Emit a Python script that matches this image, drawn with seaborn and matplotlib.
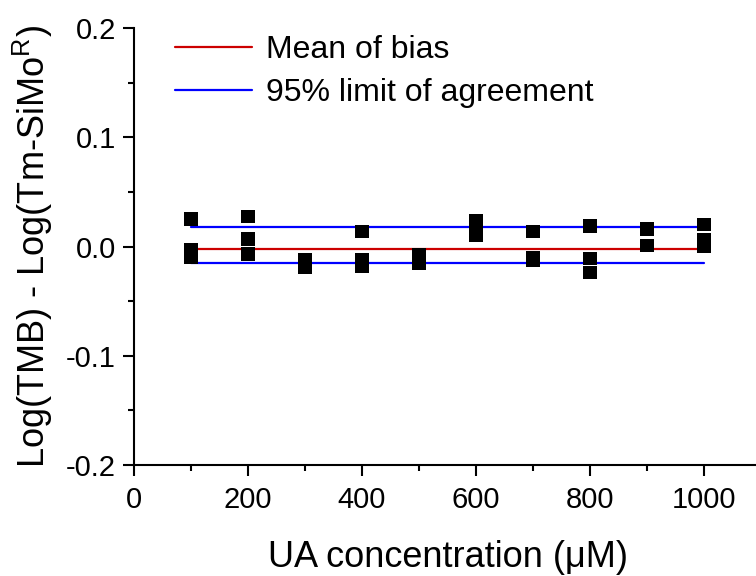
import matplotlib
matplotlib.use("Agg")
import matplotlib.pyplot as plt
from matplotlib.ticker import MultipleLocator
import seaborn as sns
import pandas as pd

# UA concentration (uM) and the log difference between the two methods
conc = [100, 100, 100,
        200, 200, 200,
        300, 300,
        400, 400, 400,
        500, 500,
        600, 600, 600,
        700, 700, 700,
        800, 800, 800,
        900, 900,
        1000, 1000, 1000]
diff = [0.025, -0.003, -0.010,
        0.0275, 0.0067, -0.0067,
        -0.012, -0.019,
        0.0138, -0.012, -0.018,
        -0.008, -0.015,
        0.024, 0.017, 0.010,
        0.0138, -0.010, -0.013,
        0.019, -0.011, -0.024,
        0.016, 0.001,
        0.020, 0.006, 0.0005]

mean_bias = -0.002
loa_upper = 0.018
loa_lower = -0.0147
line_x = [100, 1000]

sns.set_theme(style="ticks")
plt.rcParams["font.family"] = ["Liberation Sans", "DejaVu Sans"]
plt.rcParams["mathtext.fontset"] = "custom"
plt.rcParams["mathtext.rm"] = "Liberation Sans"
for key in ("text.color", "axes.labelcolor", "xtick.color", "ytick.color",
            "xtick.labelcolor", "ytick.labelcolor"):
    plt.rcParams[key] = "black"

fig = plt.figure(figsize=(7.56, 5.76), dpi=100)
ax = fig.add_axes([134 / 756, 111 / 576, 627 / 756, 437 / 576])

points = pd.DataFrame({"conc": conc, "diff": diff})
sns.scatterplot(data=points, x="conc", y="diff", marker="s", s=95,
                color="black", edgecolor="none", ax=ax, zorder=3)

sns.lineplot(x=line_x, y=[mean_bias, mean_bias], color="#cc0000", lw=1.6,
             ax=ax, label="Mean of bias", zorder=2)
sns.lineplot(x=line_x, y=[loa_upper, loa_upper], color="#0000ff", lw=1.6,
             ax=ax, label="95% limit of agreement", zorder=2)
sns.lineplot(x=line_x, y=[loa_lower, loa_lower], color="#0000ff", lw=1.6,
             ax=ax, zorder=2)

ax.set_xlim(0, 1100)
ax.set_ylim(-0.2, 0.2)
ax.xaxis.set_minor_locator(MultipleLocator(100))
ax.yaxis.set_minor_locator(MultipleLocator(0.05))
ax.set_xticks([0, 200, 400, 600, 800, 1000])
ax.set_yticks([-0.2, -0.1, 0.0, 0.1, 0.2])
ax.set_yticklabels(["-0.2", "-0.1", "0.0", "0.1", "0.2"])

for side in ("top", "right"):
    ax.spines[side].set_visible(False)
for side in ("left", "bottom"):
    ax.spines[side].set_linewidth(1.5)
    ax.spines[side].set_color("black")

ax.tick_params(which="major", direction="out", length=8, width=1.5,
               labelsize=21, colors="black")
ax.tick_params(axis="x", which="major", pad=7)
ax.tick_params(axis="y", which="major", pad=5)
ax.tick_params(which="minor", direction="out", length=4.5, width=1.5,
               colors="black")

ax.set_xlabel("UA concentration (μM)", fontsize=26, labelpad=19)
ax.set_ylabel(r"Log(TMB) - Log(Tm-SiMo$^{\mathregular{R}}$)", fontsize=26,
              labelpad=8)

leg = ax.legend(loc="upper left", frameon=False, fontsize=23,
                handlelength=2.4, handletextpad=0.45, labelspacing=0.42,
                borderpad=0, borderaxespad=0,
                bbox_to_anchor=(175 / 756, (576 - 35) / 576),
                bbox_transform=fig.transFigure)

fig.savefig("out.png", dpi=100)
